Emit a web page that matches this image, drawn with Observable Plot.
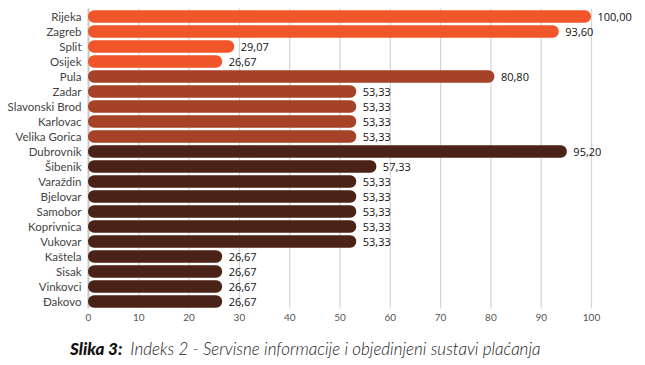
<!DOCTYPE html>
<html>
<head>
<meta charset="utf-8">
<script src="https://cdn.jsdelivr.net/npm/d3@7"></script>
<script src="https://cdn.jsdelivr.net/npm/@observablehq/plot@0.6"></script>
<style>
  body { margin: 0; background: #fff; }
  #chart svg { display: block; }
  #caption { font-family: Lato, "Open Sans", sans-serif; font-size: 17px; line-height: 20px; font-style: italic; color: #222; padding-left: 70px; margin-top: 9px; white-space: nowrap; }
  #caption b { font-weight: 900; color: #111; }
  #caption span { font-weight: 300; }
</style>
</head>
<body>
<div id="chart"></div>
<div id="caption"><b>Slika 3:</b>&nbsp; <span>Indeks 2 - Servisne informacije i objedinjeni sustavi plaćanja</span></div>
<script>
const cities = ["Rijeka","Zagreb","Split","Osijek","Pula","Zadar","Slavonski Brod","Karlovac","Velika Gorica","Dubrovnik","Šibenik","Varaždin","Bjelovar","Samobor","Koprivnica","Vukovar","Kaštela","Sisak","Vinkovci","Đakovo"];
const values = [100.00,93.60,29.07,26.67,80.80,53.33,53.33,53.33,53.33,95.20,57.33,53.33,53.33,53.33,53.33,53.33,26.67,26.67,26.67,26.67];
const groups = ["A","A","A","A","B","B","B","B","B","C","C","C","C","C","C","C","C","C","C","C"];
const groupColors = {A: "#F0562A", B: "#A54227", C: "#4B2316"};
const xTicks = [0,10,20,30,40,50,60,70,80,90,100];

const data = cities.map((c, i) => ({city: c, value: values[i], group: groups[i]}));
const fmt = v => v.toFixed(2).replace(".", ",");

const chart = Plot.plot({
  width: 645,
  height: 330,
  marginLeft: 88,
  marginRight: 54,
  marginTop: 8.5,
  marginBottom: 21.5,
  style: {fontFamily: "Lato, 'Open Sans', sans-serif", fontSize: "11px", color: "#444", background: "#fff"},
  x: {domain: [0, 100], ticks: xTicks, label: null},
  y: {domain: cities, padding: 0, label: null},
  marks: [
    Plot.ruleX(xTicks.slice(1), {stroke: "#d4d4d4", strokeWidth: 1.2, y1: null, y2: null}),
    Plot.ruleX([0], {stroke: "#c8c8c8", strokeWidth: 2}),
    Plot.barX(data, {x1: 0, x2: "value", y: "city", fill: d => groupColors[d.group], insetTop: 1.3, insetBottom: 1.3, rx: 6}),
    Plot.text(data, {x: "value", y: "city", text: d => fmt(d.value), dx: 6, textAnchor: "start", fill: "#111", fontSize: 11, fontFamily: "'Open Sans', sans-serif"}),
    Plot.axisX({ticks: xTicks, tickSize: 0, tickPadding: 5, fontSize: 10, fill: "#555", label: null}),
    Plot.axisY({tickSize: 0, tickPadding: 7, fontSize: 11.5, fill: "#444", label: null})
  ]
});
document.getElementById("chart").appendChild(chart);
</script>
</body>
</html>
